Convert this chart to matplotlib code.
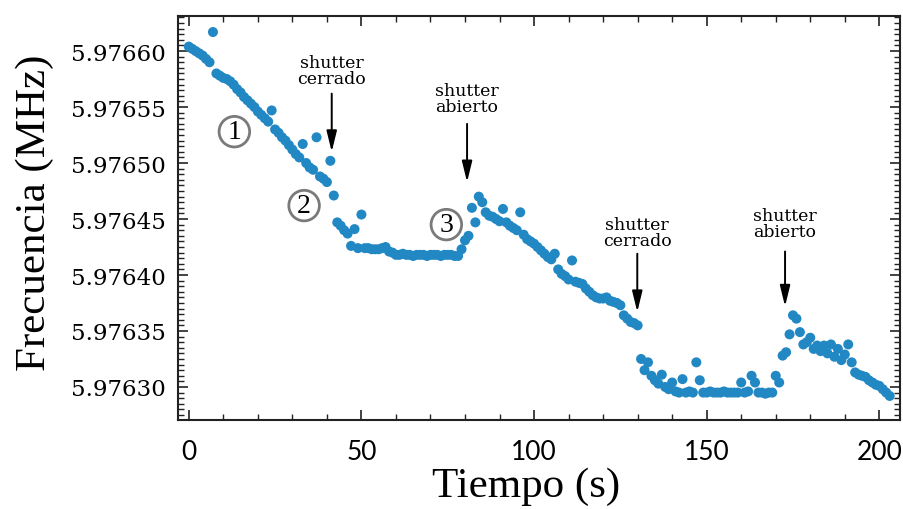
import numpy as np
import matplotlib
matplotlib.use("Agg")
import matplotlib.pyplot as plt
from matplotlib.ticker import MultipleLocator, FormatStrFormatter

# Frequency readings, one sample per second, stored as Hz above 5.976 MHz
BASE_MHZ = 5.976
fase_1 = [604, 602, 600, 598, 596, 593, 590, 617, 580, 578, 576, 575, 573, 570,
          566, 563, 559, 556, 553, 550, 546, 543, 540, 537, 547, 530, 527, 523,
          520, 516, 512, 508, 505, 517, 500, 496, 494, 523, 488, 486, 483, 502,
          471]
fase_2 = [447, 444, 440, 437, 426, 441, 424, 454, 424, 424, 423, 423, 423, 424,
          425, 421, 420, 418, 418, 419, 418, 418, 417, 418, 418, 418, 417, 418,
          418, 418, 417, 418, 418, 418, 417, 417, 423, 431]
fase_3 = [435, 460, 447, 470, 465, 456, 453, 452, 450, 448, 459, 447, 444, 442,
          440, 456, 436, 432, 430, 428, 425, 422, 419, 416, 414, 419, 405, 401,
          399, 396, 413, 394, 393, 392, 388, 385, 382, 380, 379, 379, 380, 377,
          376, 375, 373, 364, 361, 358, 357, 355]
fase_4 = [325, 315, 322, 310, 306, 303, 311, 300, 298, 304, 296, 295, 307, 295,
          296, 295, 322, 306, 295, 295, 296, 295, 295, 295, 296, 295, 295, 295,
          295, 304, 295, 296, 310, 304, 295, 295, 294, 295, 295, 310, 304]
fase_5 = [328, 331, 347, 364, 361, 349, 338, 340, 344, 334, 337, 332, 337, 330,
          338, 327, 334, 324, 329, 338, 322, 313, 311, 310, 309, 306, 304, 302,
          301, 298, 295, 292]

offset_hz = np.array(fase_1 + fase_2 + fase_3 + fase_4 + fase_5, dtype=float)
frecuencia = BASE_MHZ + offset_hz * 1e-6
tiempo = np.arange(frecuencia.size)  # 1 s sampling period

# (label, time, text centre, arrow tail, arrow tip) -- heights in Hz above base
anotaciones = [
    ("shutter\ncerrado", 41.4, 583, 562, 510),
    ("shutter\nabierto", 80.6, 558, 535, 483),
    ("shutter\ncerrado", 129.9, 438, 419, 367),
    ("shutter\nabierto", 172.7, 446, 421, 372),
]
# circled stage markers: (label, time, Hz above base)
etapas = [("1", 13.2, 528), ("2", 33.4, 462), ("3", 74.6, 445)]

fig = plt.figure(figsize=(9.04, 5.10), dpi=100)
ax = fig.add_axes([0.197, 0.1745, 0.7986, 0.792])

ax.scatter(tiempo, frecuencia, s=52, color="#2288c3", edgecolors="none", zorder=3)

hz = lambda v: BASE_MHZ + v * 1e-6
for texto, t, ytxt, ycola, ypunta in anotaciones:
    ax.text(t, hz(ytxt), texto, ha="center", va="center", fontsize=12.5,
            family="DejaVu Serif", linespacing=0.92, zorder=4)
    ax.annotate("", xy=(t, hz(ypunta)), xytext=(t, hz(ycola)),
                arrowprops=dict(arrowstyle="-|>,head_width=0.22,head_length=0.9",
                                color="black", lw=1.4, mutation_scale=14,
                                shrinkA=0, shrinkB=0), zorder=4)

for num, t, v in etapas:
    ax.text(t, hz(v), num, ha="center", va="center", fontsize=20,
            family="Liberation Serif", zorder=5,
            bbox=dict(boxstyle="circle,pad=0.1", fc="white", ec="#7a7a7a", lw=2.0))

ax.set_xlim(-3.1, 206.0)
ax.set_ylim(hz(270.5), hz(631.25))

ax.xaxis.set_major_locator(MultipleLocator(50))
ax.xaxis.set_minor_locator(MultipleLocator(10))
ax.yaxis.set_major_locator(MultipleLocator(0.00005))
ax.yaxis.set_minor_locator(MultipleLocator(0.000005))
ax.yaxis.set_major_formatter(FormatStrFormatter("%.5f"))

ax.tick_params(which="both", direction="in", top=True, right=True, color="#222222")
ax.tick_params(which="major", length=7, width=1.2)
ax.tick_params(which="minor", length=4, width=1.0)
ax.tick_params(axis="y", which="major", pad=9)
ax.tick_params(axis="x", which="major", pad=14)

for lab in ax.get_yticklabels():
    lab.set_family("DejaVu Serif")
    lab.set_fontsize(16.5)
for lab in ax.get_xticklabels():
    lab.set_family("Lato")
    lab.set_fontsize(19)

for s in ax.spines.values():
    s.set_linewidth(1.5)
    s.set_color("#222222")

ax.set_xlabel("Tiempo (s)", family="Liberation Serif", fontsize=31)
ax.set_ylabel("Frecuencia (MHz)", family="Liberation Serif", fontsize=31)
ax.xaxis.set_label_coords(0.482, -0.115)
ax.yaxis.set_label_coords(-0.172, 0.515)

fig.savefig("out.png", dpi=100, facecolor="white")
